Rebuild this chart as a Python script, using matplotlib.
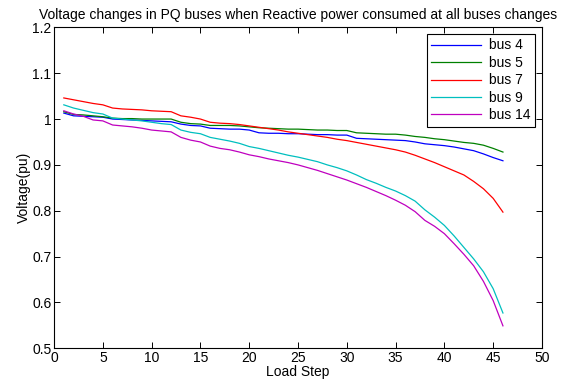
#!/usr/bin/env python3

import matplotlib
matplotlib.use('Agg')
import matplotlib.pyplot as plt
import numpy as np

plt.rcParams['font.family'] = ['Liberation Sans', 'DejaVu Sans']
plt.rcParams['font.size'] = 10

steps = np.arange(1, 47)

bus4 = [1.013, 1.007, 1.006, 1.005, 1.004, 1.000, 0.999, 0.998, 0.997, 0.996,
        0.995, 0.994, 0.989, 0.986, 0.985, 0.980, 0.979, 0.978, 0.978, 0.976,
        0.970, 0.969, 0.969, 0.968, 0.968, 0.967, 0.966, 0.966, 0.965, 0.965,
        0.958, 0.957, 0.956, 0.955, 0.954, 0.953, 0.950, 0.946, 0.944, 0.942,
        0.939, 0.935, 0.931, 0.924, 0.916, 0.909]
bus5 = [1.016, 1.010, 1.009, 1.007, 1.005, 1.002, 1.001, 1.001, 1.000, 1.000,
        1.000, 1.000, 0.993, 0.990, 0.989, 0.986, 0.986, 0.986, 0.985, 0.983,
        0.981, 0.980, 0.979, 0.978, 0.978, 0.977, 0.976, 0.976, 0.975, 0.975,
        0.970, 0.969, 0.968, 0.967, 0.967, 0.965, 0.962, 0.960, 0.957, 0.955,
        0.952, 0.949, 0.947, 0.943, 0.936, 0.928]
bus7 = [1.046, 1.042, 1.038, 1.034, 1.031, 1.024, 1.022, 1.021, 1.020, 1.018,
        1.017, 1.016, 1.007, 1.004, 1.000, 0.993, 0.991, 0.990, 0.988, 0.985,
        0.982, 0.979, 0.976, 0.972, 0.969, 0.966, 0.963, 0.960, 0.956, 0.953,
        0.949, 0.945, 0.941, 0.937, 0.933, 0.928, 0.921, 0.913, 0.905, 0.896,
        0.887, 0.878, 0.864, 0.848, 0.827, 0.797]
bus9 = [1.031, 1.024, 1.019, 1.014, 1.011, 1.002, 1.000, 0.998, 0.996, 0.993,
        0.990, 0.988, 0.976, 0.971, 0.968, 0.960, 0.956, 0.952, 0.947, 0.940,
        0.936, 0.931, 0.926, 0.921, 0.917, 0.912, 0.907, 0.900, 0.894, 0.887,
        0.878, 0.868, 0.860, 0.851, 0.843, 0.833, 0.821, 0.802, 0.786, 0.768,
        0.745, 0.720, 0.695, 0.667, 0.630, 0.577]
bus14 = [1.018, 1.011, 1.006, 0.998, 0.996, 0.987, 0.985, 0.983, 0.980, 0.976,
         0.974, 0.972, 0.960, 0.954, 0.950, 0.941, 0.936, 0.933, 0.928, 0.922,
         0.918, 0.913, 0.909, 0.905, 0.900, 0.894, 0.888, 0.881, 0.874, 0.867,
         0.859, 0.851, 0.842, 0.833, 0.823, 0.812, 0.798, 0.779, 0.766, 0.750,
         0.728, 0.705, 0.680, 0.646, 0.604, 0.549]

series = [(bus4, 'bus 4', (0, 0, 1)),
          (bus5, 'bus 5', (0, 0.5, 0)),
          (bus7, 'bus 7', (1, 0, 0)),
          (bus9, 'bus 9', (0, 0.75, 0.75)),
          (bus14, 'bus 14', (0.75, 0, 0.75))]

fig = plt.figure(figsize=(5.69, 3.83), dpi=100)
ax = fig.add_axes([0.095, 0.0906, 0.8575, 0.838])

for vals, name, col in series:
    ax.plot(steps, vals, color=col, lw=0.9, label=name)

ax.set_xlim(0, 50)
ax.set_ylim(0.5, 1.2)
ax.set_xticks(np.arange(0, 51, 5))
ax.set_yticks(np.arange(0.5, 1.21, 0.1))
ax.set_yticklabels(['0.5', '0.6', '0.7', '0.8', '0.9', '1', '1.1', '1.2'])
ax.tick_params(direction='in', top=True, right=True, length=4, width=0.7, pad=2)
for s in ax.spines.values():
    s.set_linewidth(0.8)

ax.set_xlabel('Load Step', labelpad=0)
ax.set_ylabel('Voltage(pu)', labelpad=1)
ax.set_title('Voltage changes in PQ buses when Reactive power consumed at all buses changes',
             fontsize=10, pad=6)

leg = ax.legend(loc='upper right', fancybox=False, edgecolor='black',
                framealpha=1, handlelength=3.6, handletextpad=0.6,
                borderaxespad=0.5, labelspacing=0.25, borderpad=0.3,
                fontsize=10)
leg.get_frame().set_linewidth(0.8)

fig.savefig('out.png', dpi=100)
